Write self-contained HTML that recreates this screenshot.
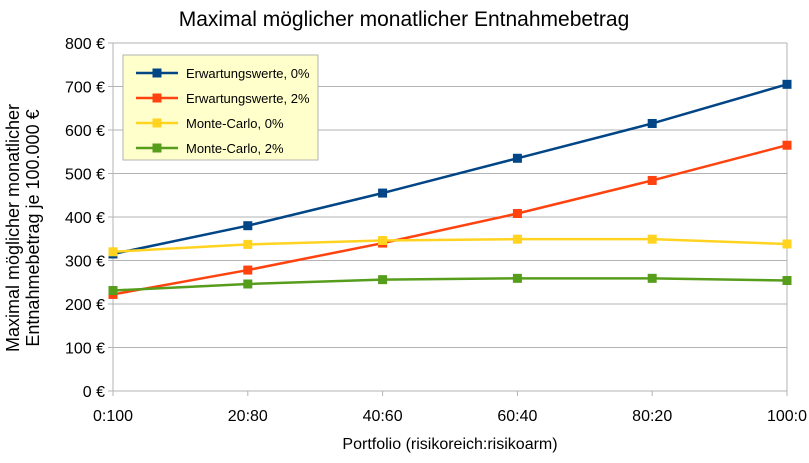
<!DOCTYPE html>
<html><head><meta charset="utf-8"><style>
body{margin:0;background:#fff;}
svg text{font-family:"Liberation Sans",sans-serif;fill:#000;}
</style></head><body>
<svg id="chart" width="809" height="458"></svg>
<script>
const categories=["0:100","20:80","40:60","60:40","80:20","100:0"];
const seriesNames=["Erwartungswerte, 0%","Erwartungswerte, 2%","Monte-Carlo, 0%","Monte-Carlo, 2%"];
const ew0=[315,380,455,535,615,705];
const ew2=[222,278,340,408,484,565];
const mc0=[320,337,346,349,349,338];
const mc2=[231,246,256,259,259,254];
const yTicks=[0,100,200,300,400,500,600,700,800];
const colors=["#004586","#ff420e","#ffd320","#579d1c"];
const NS="http://www.w3.org/2000/svg";
const svg=document.getElementById('chart');
const L=113,R=787,T=43,B=391;
const x=i=>L+(R-L)*i/(categories.length-1);
const y=v=>B-(B-T)*v/800;
function mk(tag,attrs,parent){const e=document.createElementNS(NS,tag);for(const k in attrs)e.setAttribute(k,attrs[k]);(parent||svg).appendChild(e);return e;}
let t=mk('text',{x:404,y:26,'text-anchor':'middle','font-size':21});t.textContent="Maximal möglicher monatlicher Entnahmebetrag";


yTicks.forEach(v=>{
 const g=mk('line',{x1:L,x2:R,y1:y(v),y2:y(v),stroke:'#b3b3b3','stroke-width':1});
 
 
 mk('line',{x1:L-5,x2:L,y1:y(v),y2:y(v),stroke:'#b3b3b3'});
 const l=mk('text',{x:L-8,y:y(v)+6,'text-anchor':'end','font-size':16});l.textContent=v+" €";
 
 
});
mk('line',{x1:L,x2:L,y1:T,y2:B,stroke:'#b3b3b3'});
mk('line',{x1:R,x2:R,y1:T,y2:B,stroke:'#b3b3b3'});
categories.forEach((c,i)=>{
 mk('line',{x1:x(i),x2:x(i),y1:B,y2:B+5,stroke:'#b3b3b3'});
 const l=mk('text',{x:x(i),y:B+30,'text-anchor':'middle','font-size':16});l.textContent=c;
 
 
});
t=mk('text',{x:450,y:449,'text-anchor':'middle','font-size':16});t.textContent="Portfolio (risikoreich:risikoarm)";


t=mk('text',{transform:'translate(19,228) rotate(-90)','text-anchor':'middle','font-size':18});


const ts1=mk('tspan',{x:0,dy:0},t);ts1.textContent="Maximal möglicher monatlicher";
const ts2=mk('tspan',{x:0,dy:20},t);ts2.textContent="Entnahmebetrag je 100.000 €";
[ew0,ew2,mc0,mc2].forEach((s,k)=>{
 const p=mk('polyline',{points:s.map((v,i)=>x(i)+','+y(v)).join(' '),fill:'none',stroke:colors[k],'stroke-width':2.5});
 
 
 s.forEach((v,i)=>{
  const m=mk('rect',{x:x(i)-4.5,y:y(v)-4.5,width:9,height:9,fill:colors[k]});
  
  
 });
});
const lg=mk('rect',{x:123,y:55,width:195,height:105,fill:'#ffffcc',stroke:'#b3b3b3'});


seriesNames.forEach((n,k)=>{
 const yy=73+k*25;
 mk('line',{x1:136,x2:178,y1:yy,y2:yy,stroke:colors[k],'stroke-width':2.5});
 mk('rect',{x:152.5,y:yy-4.5,width:9,height:9,fill:colors[k]});
 const l=mk('text',{x:186,y:yy+5,'font-size':13});l.textContent=n;
 
 
});
</script>
</body></html>
